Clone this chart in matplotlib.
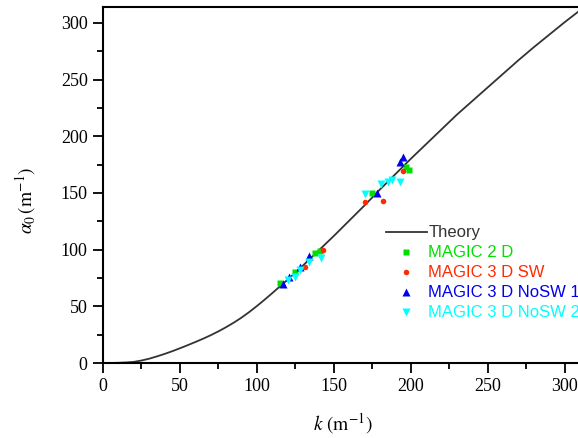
import numpy as np
import matplotlib
matplotlib.use('Agg')
import matplotlib.pyplot as plt
from matplotlib.ticker import MultipleLocator

plt.rcParams['font.family'] = 'Liberation Serif'
plt.rcParams['mathtext.fontset'] = 'stix'

# theory curve
theory_k = [0, 5, 10, 15, 20, 25, 30, 35, 40, 45, 50, 55, 60, 65, 70, 75, 80, 85,
            90, 95, 100, 105, 110, 120, 130, 140, 150, 160, 170, 180, 190, 200,
            210, 220, 230, 240, 250, 260, 270, 280, 290, 300, 310, 320]
theory_a = [0, 0.05, 0.2, 0.5, 1.0, 2.2, 3.8, 5.8, 8.0, 10.4, 13.0, 15.7, 18.5,
            21.4, 24.5, 27.9, 31.6, 35.6, 40.0, 44.9, 50.2, 55.8, 61.6, 73.5, 86,
            99, 112, 125.5, 139, 153, 166.5, 180, 193, 206, 219, 231, 243, 255,
            267, 278.5, 289.5, 300.5, 311, 321]

# simulation points
m2d_k = [115, 125, 138, 141, 175, 197, 199]
m2d_a = [70.5, 80, 97, 99, 150, 173, 170]

sw_k = [131, 143, 170, 182, 195]
sw_a = [85, 100, 142, 143, 169]

nosw1_k = [117, 121, 128, 134, 178, 193, 195]
nosw1_a = [70, 76, 85, 94, 150, 177, 182]

nosw2_k = [120, 125, 128, 134, 142, 170, 181, 185, 188, 193]
nosw2_a = [73, 76, 82, 89, 93, 149, 158, 160, 161, 160]

fig = plt.figure(figsize=(5.78, 4.38), dpi=100)
ax = fig.add_axes([0.1782, 0.1712, 0.8304, 0.8128])

ax.plot(theory_k, theory_a, color='#333333', lw=1.3, label='Theory')
ax.plot(m2d_k, m2d_a, 's', color='#00e000', ms=4, mec='none', label='MAGIC 2 D')
ax.plot(sw_k, sw_a, 'o', color='#ff2a00', ms=4, mec='none', label='MAGIC 3 D SW')
ax.plot(nosw1_k, nosw1_a, '^', color='#0000ee', ms=5.5, mec='none', label='MAGIC 3 D NoSW 1')
ax.plot(nosw2_k, nosw2_a, 'v', color='#00ffff', ms=5.5, mec='none', label='MAGIC 3 D NoSW 2')

ax.set_xlim(0, 312)
ax.set_ylim(0, 314)
ax.xaxis.set_major_locator(MultipleLocator(50))
ax.xaxis.set_minor_locator(MultipleLocator(25))
ax.yaxis.set_major_locator(MultipleLocator(50))
ax.yaxis.set_minor_locator(MultipleLocator(25))
ax.tick_params(which='major', direction='out', length=7, width=1.3, labelsize=13, pad=4)
ax.tick_params(which='minor', direction='out', length=4, width=1.3)
for s in ax.spines.values():
    s.set_linewidth(1.5)

ax.set_xlabel(r'$k\ (\mathrm{m}^{-1})$', fontsize=14)
ax.set_ylabel(r'$\alpha_0\,(\mathrm{m}^{-1})$', fontsize=14)
ax.xaxis.set_label_coords(0.5, -0.135)
ax.yaxis.set_label_coords(-0.135, 0.458)

# legend runs off the right edge, as in the original figure
leg = ax.legend(loc='upper left', bbox_to_anchor=(0.575, 0.405), frameon=False,
                prop={'family': 'Liberation Sans', 'size': 12},
                handlelength=2.5, handletextpad=0.05, labelspacing=0.3,
                borderaxespad=0, labelcolor='linecolor')

fig.savefig('out.png', dpi=100)
